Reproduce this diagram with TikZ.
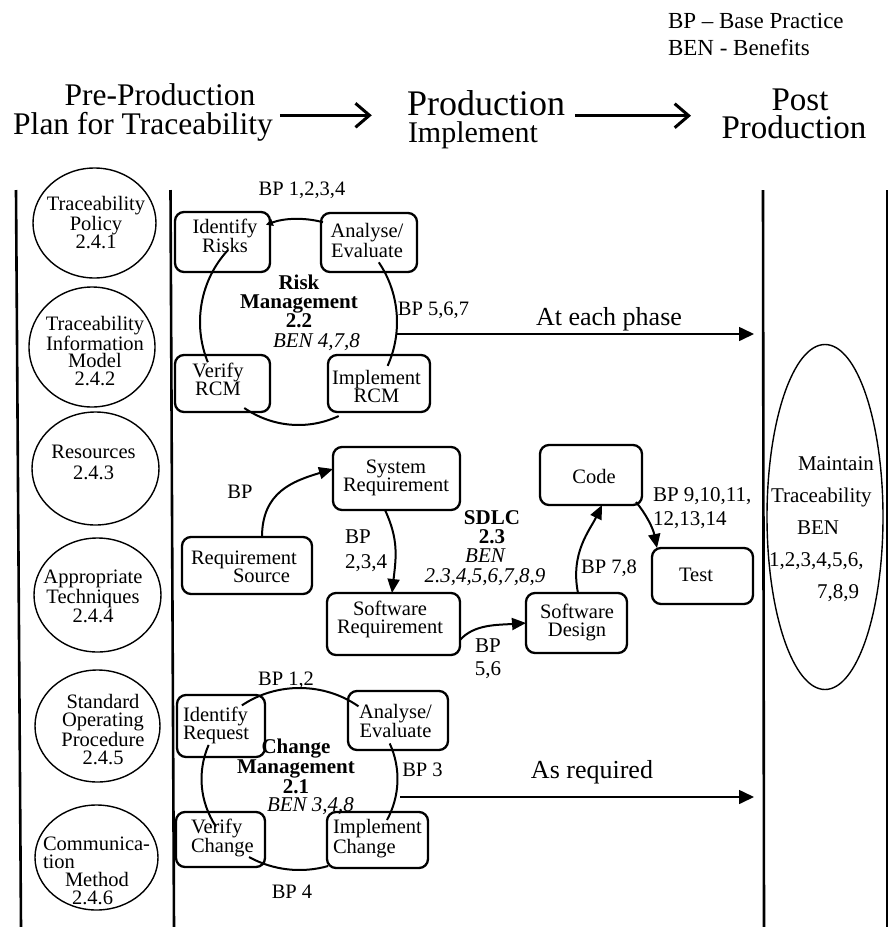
\documentclass[tikz,border=0pt]{standalone}
\usepackage{fontspec}
\setmainfont{Liberation Serif}
\usetikzlibrary{arrows.meta,shapes.geometric,calc}
\begin{document}
\begin{tikzpicture}[x=1pt,y=-1pt,
  every node/.style={inner sep=0pt, outer sep=0pt},
  txt/.style={font=\fontsize{20.5}{18}\selectfont, align=center},
  bx/.style={draw, line width=2.3pt, rounded corners=9pt},
  ell/.style={draw, ellipse, line width=1.4pt},
  vline/.style={line width=2.6pt},
  cyc/.style={line width=2pt},
  flow/.style={line width=2pt, -{Triangle[length=14pt,width=12pt]}},
  hdr/.style={line width=3pt, -{Straight Barb[length=14pt,width=24pt]}},
  phase/.style={line width=1.6pt, -{Triangle[length=15pt,width=14pt]}},
]
\fill[white] (0,0) rectangle (890,927);
\useasboundingbox (0,0) rectangle (890,927);

% header
\node[font=\fontsize{23}{26}\selectfont, anchor=base west] (lg1) at (668,28) {BP -- Base Practice};
\node[font=\fontsize{23}{26}\selectfont, anchor=base west] (lg2) at (668,55) {BEN - Benefits};
\node[font=\fontsize{31.5}{32}\selectfont, anchor=base] (h1a) at (160,105) {Pre-Production};
\node[font=\fontsize{31.5}{32}\selectfont, anchor=base] (h1b) at (143,134) {Plan for Traceability};
\node[font=\fontsize{36}{36}\selectfont, anchor=base west] (h2a) at (407,115) {Production};
\node[font=\fontsize{30}{30}\selectfont, anchor=base west] (h2b) at (408,142) {Implement};
\node[font=\fontsize{33}{33}\selectfont, anchor=base] (h3a) at (800,110) {Post};
\node[font=\fontsize{33}{33}\selectfont, anchor=base] (h3b) at (794,138) {Production};
\draw[hdr] (h1b.east) ++(7,-11) -- ++(92,0);
\draw[hdr] (h2a.east) ++(10,13) -- ++(116,0);

% swimlane lines
\coordinate (l1t) at (16,190); \coordinate (l1b) at (21,927);
\coordinate (l2t) at (170.5,190); \coordinate (l2b) at (174,927);
\coordinate (l3t) at (763,190); \coordinate (l3b) at (764,927);
\coordinate (l4t) at (887,190); \coordinate (l4b) at (887,927);
\draw[vline] (l1t) -- (l1b);
\draw[vline] (l2t) -- (l2b);
\draw[vline] (l3t) -- (l3b);
\draw[vline] (l4t) -- (l4b);

% left column ellipses
\node[ell, minimum width=123pt, minimum height=110pt] (e1) at (94.5,223) {};
\node[txt, font=\fontsize{20.5}{18}\selectfont] (e1t) at (96,222.5) {Traceability\\Policy\\2.4.1};
\node[ell, minimum width=126pt, minimum height=120pt] (e2) at (92,347) {};
\node[txt, font=\fontsize{20.5}{17.5}\selectfont] (e2t) at (95,351) {Traceability\\Information\\Model\\2.4.2};
\node[ell, minimum width=127pt, minimum height=113pt] (e3) at (95.5,468.5) {};
\node[txt, font=\fontsize{20.5}{21}\selectfont] (e3t) at (93.5,462.5) {Resources\\2.4.3};
\node[ell, minimum width=127pt, minimum height=114pt] (e4) at (97.5,595) {};
\node[txt, font=\fontsize{20.5}{19.5}\selectfont] (e4t) at (93,596.5) {Appropriate\\Techniques\\2.4.4};
\node[ell, minimum width=125pt, minimum height=112pt] (e5) at (97.5,726) {};
\node[txt, font=\fontsize{20.5}{17.7}\selectfont] (e5t) at (103,729.5) {Standard\\Operating\\Procedure\\2.4.5};
\node[ell, minimum width=123pt, minimum height=105pt] (e6) at (96.5,857.5) {};
\node[txt, font=\fontsize{20.5}{18}\selectfont, align=left, anchor=west] (e6t) at (43,871) {Communica-\\tion\\\hspace*{22pt}Method\\\hspace*{29pt}2.4.6};

% right ellipse
\node[ell, minimum width=116pt, minimum height=345pt] (mt) at (825,517) {};
\node[txt, font=\fontsize{21}{32}\selectfont, align=left, anchor=west] (mtt) at (769,529) {\hspace*{29pt}Maintain\\\hspace*{2pt}Traceability\\\hspace*{28pt}BEN\\1,2,3,4,5,6,\\\hspace*{48pt}7,8,9};

% ---------------- Risk management ----------------
\node[bx, minimum width=95pt, minimum height=60pt] (ir) at (222.5,242) {};
\node[bx, minimum width=96pt, minimum height=59pt] (ae) at (369,242.5) {};
\node[bx, minimum width=95pt, minimum height=57pt] (vr) at (222.5,383.5) {};
\node[bx, minimum width=102pt, minimum height=57pt] (imr) at (379,383.5) {};
\node[txt] (irt) at (225,236) {Identify\\Risks};
\node[txt] (aet) at (367,240.5) {Analyse/\\Evaluate};
\node[txt] (vrt) at (218,379) {Verify\\RCM};
\node[txt] (imrt) at (376.5,386.5) {Implement\\RCM};
\node[txt, font=\bfseries\fontsize{21}{18.5}\selectfont] (rmt) at (299,301.5) {Risk\\Management\\2.2};
\node[txt, font=\itshape\fontsize{21}{17}\selectfont] (rmb) at (316.5,342) {BEN 4,7,8};
\coordinate (rmc) at (298.5,322);
\draw[cyc, -{Triangle[length=7pt,width=7pt]}] (rmc) ++(-75.6:98.5 and 103) arc[start angle=-75.6, end angle=-109.3, x radius=98.5, y radius=103];
\draw[cyc] (rmc) ++(-35.4:98.5 and 103) arc[start angle=-35.4, end angle=25.2, x radius=98.5, y radius=103];
\draw[cyc] (rmc) ++(65.9:98.5 and 103) arc[start angle=65.9, end angle=123.4, x radius=98.5, y radius=103];
\draw[cyc] (rmc) ++(-135.6:98.5 and 103) arc[start angle=-135.6, end angle=-203, x radius=98.5, y radius=103];
\node[txt] (bp1) at (302,190) {BP 1,2,3,4};
\node[txt] (bp2) at (433.5,310) {BP 5,6,7};
\coordinate (ph1s) at (397,334);
\coordinate (ph1e) at (754,334);
\draw[phase] (ph1s) -- (ph1e);
\node[font=\fontsize{26}{26}\selectfont] (phase1) at (609,319) {At each phase};

% ---------------- SDLC ----------------
\node[bx, minimum width=130pt, minimum height=57pt] (rs) at (247,565.5) {};
\node[bx, minimum width=127pt, minimum height=63pt] (sr) at (396.5,478.5) {};
\node[bx, minimum width=133pt, minimum height=62pt] (swr) at (393.5,624) {};
\node[bx, minimum width=101pt, minimum height=60pt] (sd) at (576.5,623) {};
\node[bx, minimum width=102pt, minimum height=60pt] (code) at (591,475) {};
\node[bx, minimum width=101pt, minimum height=56pt] (test) at (702.5,576) {};
\node[txt, align=left, anchor=west] (rst) at (191,566.5) {Requirement\\\hspace*{42pt}Source};
\node[txt] (srt) at (396,478) {System\\Requirement};
\node[txt] (swrt) at (390,619.5) {Software\\Requirement};
\node[txt] (sdt) at (577,622) {Software\\Design};
\node[txt] (codet) at (594,476) {Code};
\node[txt] (testt) at (696,575) {Test};
\node[txt, font=\bfseries\fontsize{21}{19}\selectfont] (sdlc) at (492,527.5) {SDLC\\2.3};
\node[txt, font=\itshape\fontsize{21}{20}\selectfont] (sdlcb) at (485,567.5) {BEN\\2.3,4,5,6,7,8,9};
\draw[flow] ([xshift=15pt]rs.north) .. controls +(0,-45) and +(-40,12) .. ([yshift=9.5pt]sr.west);
\draw[flow] ([xshift=-11.5pt]sr.south) .. controls +(14,30) and +(4,-35) .. ([xshift=-1.5pt]swr.north);
\draw[flow] ([yshift=-16pt]swr.east) .. controls +(14,-16) and +(-28,2) .. (sd.west);
\draw[flow] ([xshift=1.5pt]sd.north) .. controls +(-8,-40) and +(-12,25) .. ([xshift=11pt]code.south);
\draw[flow] ([xshift=-6pt,yshift=3pt]code.south east) .. controls +(10,12) and +(-4,-20) .. ([xshift=5pt]test.north west);
\node[txt] (bp3) at (240,492) {BP};
\node[txt, align=left, anchor=west, font=\fontsize{21}{25}\selectfont] (bp4) at (345,550.5) {BP\\2,3,4};
\node[txt, font=\fontsize{21}{23}\selectfont] (bp5) at (488,658.5) {BP\\5,6};
\node[txt] (bp6) at (609,568) {BP 7,8};
\node[txt, align=left, anchor=west, font=\fontsize{21}{24}\selectfont] (bp7) at (653,508) {BP 9,10,11,\\12,13,14};

% ---------------- Change management ----------------
\node[bx, minimum width=88pt, minimum height=62pt] (irq) at (221,726) {};
\node[bx, minimum width=100pt, minimum height=59pt] (aec) at (398,720.5) {};
\node[bx, minimum width=89pt, minimum height=55pt] (vc) at (220.5,839.5) {};
\node[bx, minimum width=101pt, minimum height=56pt] (imc) at (377.5,840) {};
\node[txt, align=left, anchor=west] (irqt) at (183,725) {Identify\\Request};
\node[txt] (aect) at (395.5,721) {Analyse/\\Evaluate};
\node[txt, align=left, anchor=west] (vct) at (191,838) {Verify\\Change};
\node[txt, align=left, anchor=west] (imct) at (333,838.5) {Implement\\Change};
\node[txt, font=\bfseries\fontsize{21}{20}\selectfont] (cmt) at (296,766) {Change\\Management\\2.1};
\node[txt, font=\itshape\fontsize{21}{17}\selectfont] (cmb) at (310.5,806) {BEN 3,4,8};
\coordinate (cmc) at (299.5,779);
\draw[cyc] (cmc) ++(-126:98 and 91) arc[start angle=-126, end angle=-53, x radius=98, y radius=91];
\draw[cyc] (cmc) ++(-23:98 and 91) arc[start angle=-23, end angle=26.8, x radius=98, y radius=91];
\draw[cyc] (cmc) ++(121:98 and 91) arc[start angle=121, end angle=73, x radius=98, y radius=91];
\draw[cyc] (cmc) ++(-158:98 and 91) arc[start angle=-158, end angle=-211.5, x radius=98, y radius=91];
\node[txt] (bp8) at (286,680) {BP 1,2};
\node[txt] (bp9) at (422.5,770) {BP 3};
\node[txt] (bp10) at (292,892) {BP 4};
\coordinate (ph2s) at (400,797);
\coordinate (ph2e) at (754,797);
\draw[phase] (ph2s) -- (ph2e);
\node[font=\fontsize{26}{26}\selectfont] (phase2) at (592,772) {As required};
\end{tikzpicture}
\end{document}
